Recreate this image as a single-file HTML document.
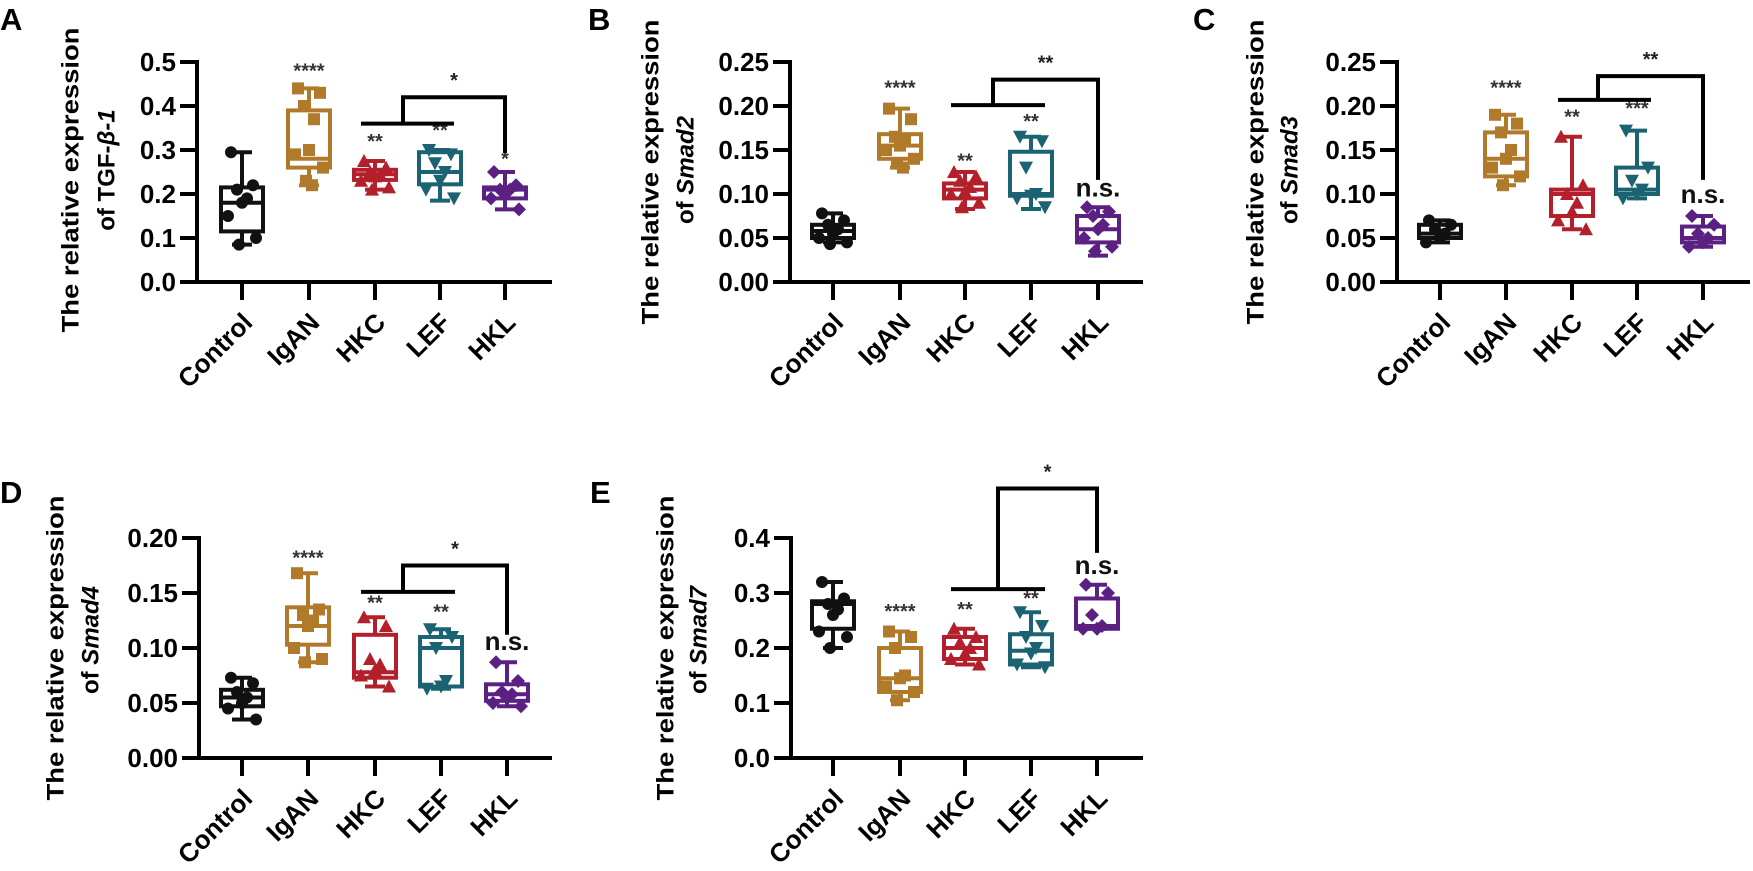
<!DOCTYPE html>
<html><head><meta charset="utf-8">
<style>
html,body{margin:0;padding:0;background:#fff;}
svg{display:block;font-family:"Liberation Sans",Arial,sans-serif;font-weight:bold;}
</style></head>
<body>
<svg id="fig" width="1753" height="871" viewBox="0 0 1753 871" xmlns="http://www.w3.org/2000/svg"></svg>
<script>
// ---------- data ----------
const categories = ["Control","IgAN","HKC","LEF","HKL"];
const colors = ["#111111","#b07a2a","#b3202b","#1b6372","#5a2182"];
// Panel A: TGF-beta-1  [min,q1,median,q3,max] per group
const statsA = [[0.085,0.115,0.18,0.215,0.295],[0.22,0.26,0.28,0.39,0.44],[0.21,0.232,0.245,0.255,0.275],[0.185,0.222,0.25,0.295,0.30],[0.165,0.19,0.21,0.215,0.25]];
const pointsA = [[0.295,0.22,0.21,0.19,0.18,0.15,0.10,0.085],[0.44,0.43,0.40,0.37,0.30,0.29,0.26,0.23,0.22],[0.275,0.26,0.25,0.245,0.24,0.23,0.215,0.21],[0.30,0.29,0.27,0.25,0.23,0.21,0.19],[0.25,0.22,0.21,0.21,0.20,0.19,0.165]];
const sigA = ["","****","**","**","*"];
const ticksA = ["0.0","0.1","0.2","0.3","0.4","0.5"];
// Panel B: Smad2
const statsB = [[0.045,0.05,0.058,0.065,0.078],[0.13,0.14,0.155,0.168,0.197],[0.083,0.095,0.105,0.112,0.125],[0.083,0.098,0.10,0.148,0.165],[0.03,0.045,0.06,0.075,0.085]];
const pointsB = [[0.078,0.07,0.065,0.06,0.055,0.05,0.045,0.043],[0.197,0.185,0.165,0.16,0.155,0.15,0.14,0.135,0.13],[0.125,0.12,0.115,0.108,0.103,0.10,0.09,0.085],[0.165,0.16,0.13,0.10,0.098,0.095,0.085],[0.085,0.08,0.075,0.065,0.06,0.05,0.04,0.035]];
const sigB = ["","****","**","**","n.s."];
const ticksB = ["0.00","0.05","0.10","0.15","0.20","0.25"];
// Panel C: Smad3
const statsC = [[0.045,0.05,0.055,0.065,0.07],[0.11,0.12,0.14,0.17,0.19],[0.06,0.075,0.10,0.105,0.165],[0.095,0.10,0.105,0.13,0.172],[0.04,0.045,0.05,0.063,0.075]];
const pointsC = [[0.07,0.065,0.06,0.055,0.05,0.045],[0.19,0.18,0.17,0.15,0.14,0.13,0.12,0.11],[0.165,0.11,0.10,0.09,0.08,0.07,0.06],[0.172,0.13,0.115,0.105,0.10,0.095],[0.075,0.065,0.055,0.05,0.045,0.04]];
const sigC = ["","****","**","***","n.s."];
const ticksC = ["0.00","0.05","0.10","0.15","0.20","0.25"];
// Panel D: Smad4
const statsD = [[0.035,0.047,0.055,0.062,0.073],[0.087,0.103,0.12,0.137,0.168],[0.065,0.073,0.078,0.112,0.128],[0.063,0.065,0.10,0.11,0.117],[0.047,0.052,0.058,0.067,0.087]];
const pointsD = [[0.073,0.068,0.06,0.055,0.05,0.045,0.035],[0.168,0.135,0.13,0.125,0.12,0.10,0.09,0.087],[0.128,0.12,0.09,0.085,0.08,0.075,0.065],[0.117,0.11,0.10,0.07,0.065,0.063],[0.087,0.07,0.06,0.058,0.055,0.05,0.047]];
const sigD = ["","****","**","**","n.s."];
const ticksD = ["0.00","0.05","0.10","0.15","0.20"];
// Panel E: Smad7
const statsE = [[0.20,0.235,0.28,0.285,0.32],[0.105,0.12,0.145,0.20,0.23],[0.17,0.18,0.20,0.22,0.235],[0.165,0.17,0.195,0.225,0.265],[0.235,0.235,0.24,0.29,0.315]];
const pointsE = [[0.32,0.29,0.28,0.27,0.26,0.23,0.22,0.20],[0.23,0.22,0.20,0.15,0.145,0.13,0.12,0.105],[0.235,0.22,0.21,0.20,0.19,0.18,0.17],[0.265,0.24,0.22,0.20,0.19,0.17,0.165],[0.315,0.30,0.26,0.24,0.235,0.235]];
const sigE = ["****","****","**","**","n.s."];
</script>
<script>
const NS="http://www.w3.org/2000/svg";
const svg=document.getElementById('fig');
function mk(tag,attrs,parent){const e=document.createElementNS(NS,tag);for(const k in attrs)e.setAttribute(k,attrs[k]);(parent||svg).appendChild(e);return e;}
const jit=[-11,11,-5,5,0,-14,14,-3,3];

function panel(p){
  const g=mk('g',{});
  
  
  const yv=v=>p.y0-(v-p.ymin)/(p.ymax-p.ymin)*(p.y0-p.ytop);
  // panel letter
  const L=mk('text',{x:p.lx,y:p.ly,'font-size':31,fill:'#000'},g);L.textContent=p.letter;
  
  
  // y title
  const cy=p.tcy;
  const t1=mk('text',{x:0,y:0,'font-size':24,'text-anchor':'middle',transform:`translate(${p.t1x},${cy}) rotate(-90)`,dy:'0.35em',textLength:p.tlen,lengthAdjust:'spacingAndGlyphs'},g);
  t1.textContent='The relative expression';
  
  
  const t2=mk('text',{x:0,y:0,'font-size':24,'text-anchor':'middle',transform:`translate(${p.t2x},${p.t2cy}) rotate(-90)`,dy:'0.35em'},g);
  t2.innerHTML='of '+p.gene;
  
  
  // axes
  const ya=mk('line',{x1:p.ax,y1:p.ytop-2,x2:p.ax,y2:p.y0+2,stroke:'#000','stroke-width':4},g);
  
  
  const xa=mk('line',{x1:p.ax-17,y1:p.y0,x2:p.xend,y2:p.y0,stroke:'#000','stroke-width':4},g);
  
  
  p.ticks.forEach((lab,i)=>{
    const v=p.ymin+i*p.tstep, y=yv(v);
    mk('line',{x1:p.ax-17,y1:y,x2:p.ax,y2:y,stroke:'#000','stroke-width':4},g);
    const t=mk('text',{x:p.ax-21,y:y+9,'font-size':26,'text-anchor':'end'},g);t.textContent=lab;
    
    
  });
  categories.forEach((c,i)=>{
    const x=p.cx[i];
    mk('line',{x1:x,y1:p.y0,x2:x,y2:p.y0+18,stroke:'#000','stroke-width':4},g);
    const t=mk('text',{x:0,y:0,'font-size':26,'text-anchor':'end',transform:`translate(${x+12},${p.y0+42}) rotate(-45)`},g);
    t.textContent=c;
    
    
  });
  // boxes
  p.stats.forEach((s,i)=>{
    const x=p.cx[i], col=colors[i], w=21, cw=10;
    const bg=mk('g',{stroke:col,'stroke-width':4,fill:'none'},g);
    
    
    mk('line',{x1:x,y1:yv(s[0]),x2:x,y2:yv(s[1])},bg);
    mk('line',{x1:x,y1:yv(s[3]),x2:x,y2:yv(s[4])},bg);
    mk('line',{x1:x-cw,y1:yv(s[0]),x2:x+cw,y2:yv(s[0])},bg);
    mk('line',{x1:x-cw,y1:yv(s[4]),x2:x+cw,y2:yv(s[4])},bg);
    mk('rect',{x:x-w,y:yv(s[3]),width:2*w,height:Math.max(1,yv(s[1])-yv(s[3])),fill:'#fff'},bg);
    mk('line',{x1:x-w,y1:yv(s[2]),x2:x+w,y2:yv(s[2])},bg);
    p.points[i].forEach((v,j)=>{
      const px=x+jit[j%jit.length], py=yv(v);
      let m;
      if(i===0) m=mk('circle',{cx:px,cy:py,r:6,fill:col,stroke:'none'},g);
      else if(i===1) m=mk('rect',{x:px-6,y:py-6,width:12,height:12,fill:col,stroke:'none'},g);
      else if(i===2) m=mk('polygon',{points:`${px},${py-7} ${px-7},${py+6} ${px+7},${py+6}`,fill:col,stroke:'none'},g);
      else if(i===3) m=mk('polygon',{points:`${px},${py+7} ${px-7},${py-6} ${px+7},${py-6}`,fill:col,stroke:'none'},g);
      else m=mk('polygon',{points:`${px},${py-7} ${px+7},${py} ${px},${py+7} ${px-7},${py}`,fill:col,stroke:'none'},g);
      
      
    });
    const lab=p.sig[i];
    if(lab){
      const ns=lab==='n.s.';
      const t=mk('text',{x:x,y:yv(p.sigY[i]),'font-size':ns?26:20,'text-anchor':'middle',fill:ns?'#111':'#333'},g);
      t.textContent=lab;
      
      
    }
  });
  // bracket
  const b=p.br;
  const bk=mk('path',{d:`M${p.cx[2]-14},${yv(b.low)} H${p.cx[3]+14} M${b.mid},${yv(b.low)} V${yv(b.high)} H${p.cx[4]} V${yv(b.end)}`,stroke:'#000','stroke-width':4,fill:'none'},g);
  
  
  const bt=mk('text',{x:(b.mid+p.cx[4])/2,y:yv(b.high)-10,'font-size':20,'text-anchor':'middle',fill:'#222'},g);
  bt.textContent=b.label;
  
  
}

panel({letter:'A',lx:0,ly:30,gene:'TGF-<tspan font-style="italic">β-1</tspan>',t1x:70,t2x:106,tcy:180,t2cy:170,tlen:305,
  ax:197,y0:282,ytop:62,ymin:0,ymax:0.5,tstep:0.1,ticks:ticksA,xend:552,cx:[242,309,375,440,505],
  stats:statsA,points:pointsA,sig:sigA,sigY:[0,0.465,0.305,0.33,0.265],
  br:{low:0.36,high:0.42,end:0.293,mid:403,label:'*'}});
panel({letter:'B',lx:588,ly:30,gene:'<tspan font-style="italic">Smad2</tspan>',t1x:650,t2x:685,tcy:172,t2cy:170,tlen:305,
  ax:790,y0:282,ytop:62,ymin:0,ymax:0.25,tstep:0.05,ticks:ticksB,xend:1143,cx:[833,900,965,1031,1098],
  stats:statsB,points:pointsB,sig:sigB,sigY:[0,0.213,0.13,0.175,0.097],
  br:{low:0.201,high:0.23,end:0.116,mid:993,label:'**'}});
panel({letter:'C',lx:1193,ly:30,gene:'<tspan font-style="italic">Smad3</tspan>',t1x:1255,t2x:1289,tcy:172,t2cy:170,tlen:305,
  ax:1397,y0:282,ytop:62,ymin:0,ymax:0.25,tstep:0.05,ticks:ticksC,xend:1750,cx:[1440,1506,1572,1637,1703],
  stats:statsC,points:pointsC,sig:sigC,sigY:[0,0.213,0.18,0.19,0.09],
  br:{low:0.207,high:0.234,end:0.116,mid:1598,label:'**'}});
panel({letter:'D',lx:0,ly:503,gene:'<tspan font-style="italic">Smad4</tspan>',t1x:55,t2x:90,tcy:648,t2cy:640,tlen:305,
  ax:199,y0:758,ytop:538,ymin:0,ymax:0.20,tstep:0.05,ticks:ticksD,xend:552,cx:[242,308,375,441,507],
  stats:statsD,points:pointsD,sig:sigD,sigY:[0,0.176,0.135,0.127,0.098],
  br:{low:0.151,high:0.175,end:0.112,mid:403,label:'*'}});
panel({letter:'E',lx:590,ly:503,gene:'<tspan font-style="italic">Smad7</tspan>',t1x:665,t2x:698,tcy:648,t2cy:640,tlen:305,
  ax:791,y0:758,ytop:538,ymin:0,ymax:0.4,tstep:0.1,ticks:["0.0","0.1","0.2","0.3","0.4"],xend:1143,cx:[833,900,965,1031,1097],
  stats:statsE,points:pointsE,sig:["",sigE[1],sigE[2],sigE[3],sigE[4]],sigY:[0,0.255,0.258,0.278,0.335],
  br:{low:0.307,high:0.49,end:0.373,mid:998,label:'*'}});
</script>
</body></html>
